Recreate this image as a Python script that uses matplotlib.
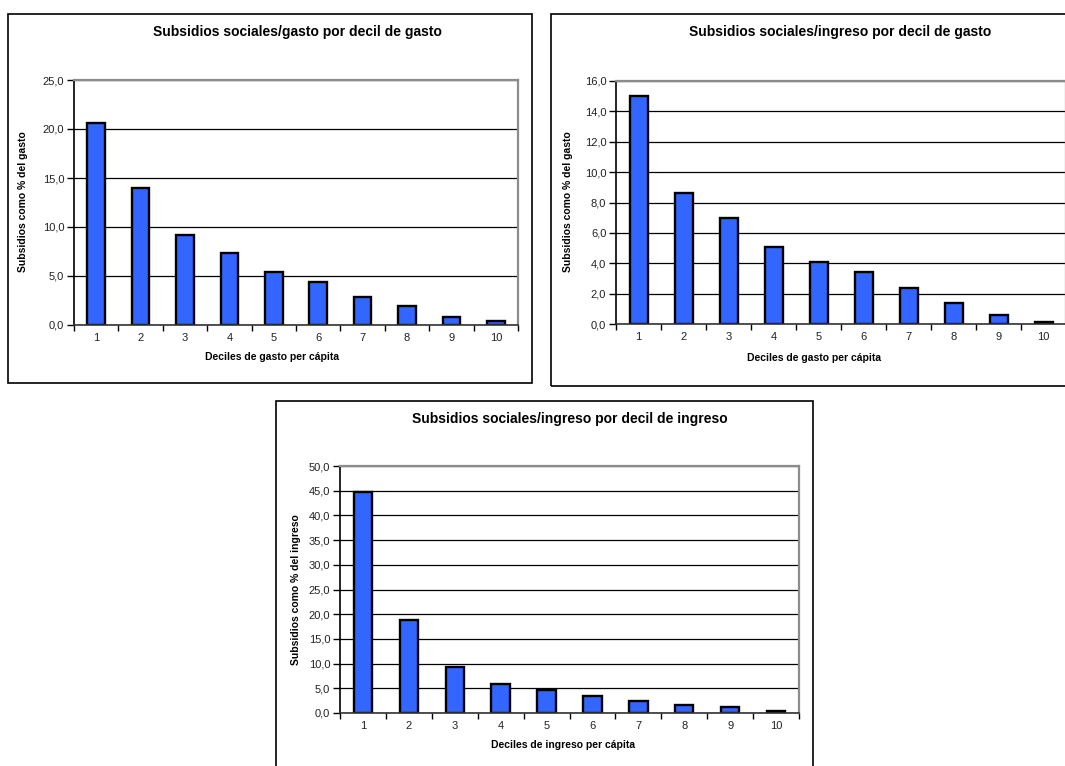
import matplotlib
matplotlib.use("Agg")
import matplotlib.pyplot as plt
from matplotlib.patches import Rectangle
from matplotlib.ticker import FuncFormatter, FixedLocator

plt.rcParams['font.family'] = ['Liberation Sans', 'DejaVu Sans']

W, H = 1065, 766

deciles = [1, 2, 3, 4, 5, 6, 7, 8, 9, 10]
gasto_por_decil_gasto = [20.6, 14.0, 9.2, 7.3, 5.4, 4.4, 2.9, 1.9, 0.8, 0.4]
ingreso_por_decil_gasto = [15.0, 8.6, 7.0, 5.1, 4.1, 3.4, 2.4, 1.4, 0.6, 0.15]
ingreso_por_decil_ingreso = [44.7, 18.9, 9.3, 5.8, 4.7, 3.5, 2.4, 1.6, 1.2, 0.4]

titles = [
    "Subsidios sociales/gasto por decil de gasto",
    "Subsidios sociales/ingreso por decil de gasto",
    "Subsidios sociales/ingreso por decil de ingreso",
]
xlabels = [
    "Deciles de gasto per cápita",
    "Deciles de gasto per cápita",
    "Deciles de ingreso per cápita",
]
ylabels = [
    "Subsidios como % del gasto",
    "Subsidios como % del gasto",
    "Subsidios como % del ingreso",
]
y_max = [25, 16, 50]
y_step = [5, 2, 5]

BAR_COLOR = "#3366FF"

fig = plt.figure(figsize=(W / 100, H / 100), dpi=100)
fig.patch.set_facecolor("white")


def fx(x):
    return x / W


def fy(y):
    return 1 - y / H


def frame(x0, y0, x1, y1):
    fig.patches.append(Rectangle((fx(x0), fy(y1)), fx(x1) - fx(x0), fy(y0) - fy(y1),
                                 transform=fig.transFigure, fill=False,
                                 edgecolor="black", linewidth=1.2))


def panel(box, values, ymax, ystep, title, xlabel, ylabel, title_xy, xlabel_xy, ylabel_xy):
    left, top, right, bottom = box
    ax = fig.add_axes([fx(left), fy(bottom), fx(right) - fx(left), fy(top) - fy(bottom)])
    ax.bar(deciles, values, width=0.4, color=BAR_COLOR, edgecolor="black",
           linewidth=1.7, zorder=2)
    ax.set_xlim(0.5, 10.5)
    ax.set_ylim(0, ymax)
    yt = [i * ystep for i in range(int(round(ymax / ystep)) + 1)]
    ax.set_yticks(yt)
    ax.yaxis.set_major_formatter(FuncFormatter(lambda v, p: f"{v:.1f}".replace(".", ",")))
    ax.set_xticks(deciles)
    ax.set_xticklabels([str(d) for d in deciles])
    ax.xaxis.set_minor_locator(FixedLocator([d + 0.5 for d in range(0, 11)]))
    ax.tick_params(axis="x", which="major", length=0, pad=6, labelsize=8, labelcolor="#222222")
    ax.tick_params(axis="x", which="minor", length=4, width=1, direction="out", color="black")
    ax.tick_params(axis="y", which="major", length=5, width=1, direction="out",
                   pad=2, labelsize=8, color="black", labelcolor="#222222")
    ax.yaxis.grid(True, color="black", linewidth=0.9)
    ax.set_axisbelow(True)
    for s in ("top", "right"):
        ax.spines[s].set_color("#8c8c8c")
        ax.spines[s].set_linewidth(1.6)
    ax.spines["left"].set_color("black")
    ax.spines["left"].set_linewidth(1.2)
    ax.spines["bottom"].set_color("#333333")
    ax.spines["bottom"].set_linewidth(1.2)

    fig.text(fx(title_xy[0]), fy(title_xy[1]), title, ha="center", va="center",
             fontsize=10, fontweight="bold")
    fig.text(fx(xlabel_xy[0]), fy(xlabel_xy[1]), xlabel, ha="center", va="center",
             fontsize=7.5, fontweight="bold")
    fig.text(fx(ylabel_xy[0]), fy(ylabel_xy[1]), ylabel, ha="center", va="center",
             fontsize=7.5, fontweight="bold", rotation=90)
    return ax


# outer chart frames
frame(8, 14, 532, 383)
frame(551, 14, 1090, 386)
frame(276, 401, 813, 790)

panel((74, 80, 518, 325), gasto_por_decil_gasto, y_max[0], y_step[0],
      titles[0], xlabels[0], ylabels[0], (297, 32), (272, 357), (23, 202))
panel((616, 81, 1066, 324), ingreso_por_decil_gasto, y_max[1], y_step[1],
      titles[1], xlabels[1], ylabels[1], (840, 32), (814, 358), (568, 202))
panel((340, 466, 799, 713), ingreso_por_decil_ingreso, y_max[2], y_step[2],
      titles[2], xlabels[2], ylabels[2], (570, 419), (563, 745), (296, 590))

fig.savefig("out.png", dpi=100, facecolor="white")
